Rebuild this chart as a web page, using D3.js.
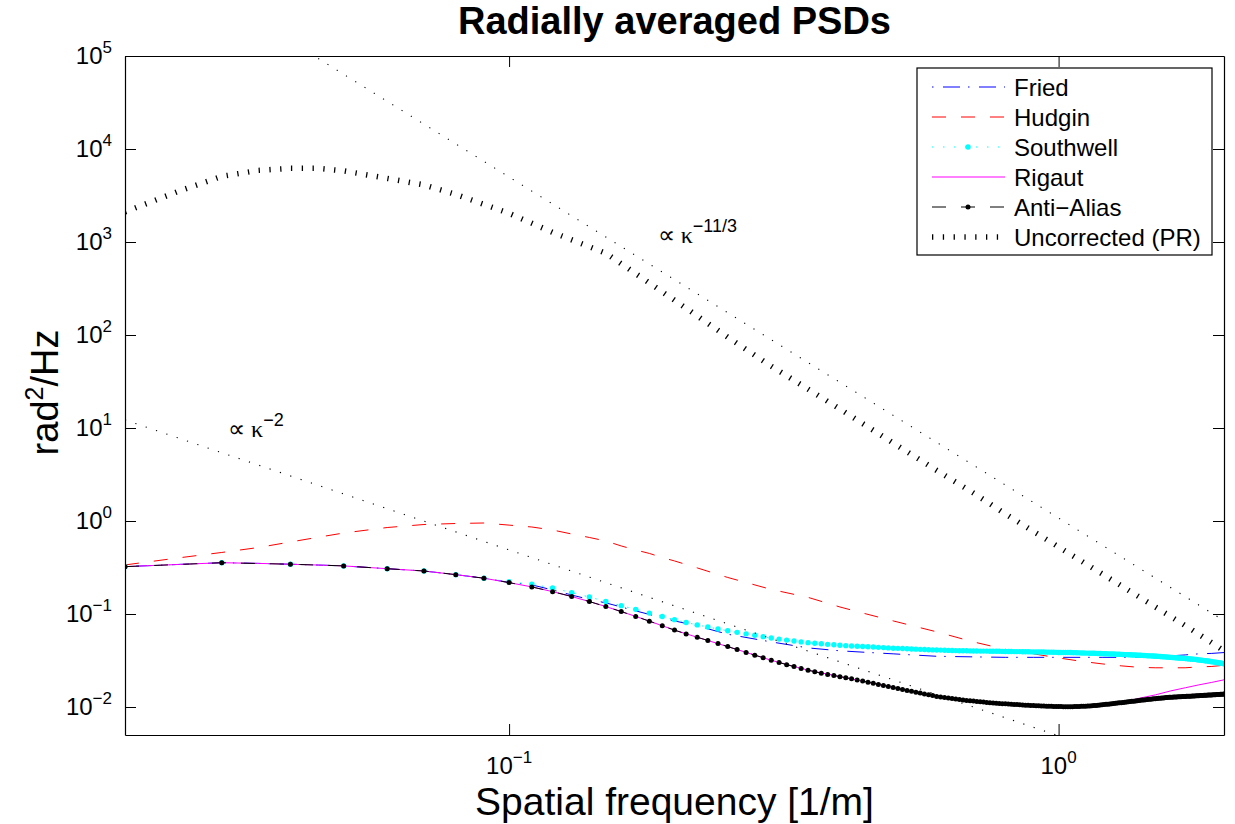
<!DOCTYPE html>
<html>
<head>
<meta charset="utf-8">
<script src="https://cdnjs.cloudflare.com/ajax/libs/d3/7.8.5/d3.min.js"></script>
<style>
  body { margin: 0; background: #fff; }
  svg { font-family: "Liberation Sans", Arial, sans-serif; }
</style>
</head>
<body>
<svg id="drawing_region"></svg>
<script>
// sampling grid of the marker series (0.02 ... 2.00 step 0.01)
const kappaFine = d3.range(2, 201).map(i => i / 100);

const antiAlias = [
  0.323, 0.356, 0.343, 0.329, 0.307, 0.290, 0.265, 0.2425, 0.2175,
  0.1955, 0.174, 0.1542, 0.1361, 0.1202, 0.1062, 0.0942, 0.0838, 0.0748, 0.0671,
  0.0611, 0.0562, 0.0520, 0.0481, 0.0446, 0.0415, 0.0386, 0.0361, 0.0339, 0.0318,
  0.0301, 0.0285, 0.0272, 0.0259, 0.0249, 0.0239, 0.0231, 0.0224, 0.0218, 0.0212,
  0.02065, 0.0201, 0.01954, 0.01901, 0.01849, 0.01799, 0.0175, 0.01706, 0.01663, 0.01622,
  0.01581, 0.01544, 0.01508, 0.01475, 0.01442, 0.01412, 0.01382, 0.01354, 0.01327, 0.0130,
  0.01282, 0.01264, 0.01248, 0.01232, 0.01217, 0.01203, 0.0119, 0.01178, 0.01167, 0.01157,
  0.01148, 0.01138, 0.01129, 0.01121, 0.01113, 0.01106, 0.01099, 0.01093, 0.01087, 0.01082,
  0.01076, 0.01072, 0.01067, 0.01062, 0.01057, 0.01052, 0.01047, 0.01043, 0.0104, 0.01036,
  0.01033, 0.0103, 0.01027, 0.01024, 0.01021, 0.01019, 0.01017, 0.01015, 0.01013, 0.01011,
  0.0101, 0.01009, 0.01008, 0.01008, 0.01008, 0.01009, 0.0101, 0.01012, 0.01013, 0.01016,
  0.01018, 0.01021, 0.01025, 0.01028, 0.01032, 0.01036, 0.01041, 0.01046, 0.01051, 0.01056,
  0.01062, 0.01068, 0.01073, 0.01079, 0.01085, 0.01091, 0.01096, 0.01102, 0.01108, 0.01114,
  0.0112, 0.01126, 0.01132, 0.01138, 0.01144, 0.0115, 0.01156, 0.01162, 0.01169, 0.01175,
  0.01181, 0.01187, 0.01192, 0.01198, 0.01204, 0.01209, 0.01214, 0.0122, 0.01225, 0.0123,
  0.01235, 0.0124, 0.01244, 0.01249, 0.01253, 0.01258, 0.01262, 0.01266, 0.0127, 0.01274,
  0.01277, 0.01279, 0.01282, 0.01284, 0.01287, 0.01289, 0.01292, 0.01294, 0.01297, 0.01299,
  0.01302, 0.01304, 0.01307, 0.01309, 0.01312, 0.01314, 0.01317, 0.01319, 0.01322, 0.01325,
  0.01327, 0.0133, 0.01332, 0.01335, 0.01337, 0.0134, 0.01342, 0.01345, 0.01348, 0.0135,
  0.01353, 0.01355, 0.01358, 0.01361, 0.01363, 0.01366, 0.01368, 0.01371, 0.01374, 0.01376
];

const southwell = [
  0.323, 0.356, 0.343, 0.329, 0.307, 0.290, 0.265, 0.2425, 0.222,
  0.2089, 0.1905, 0.1698, 0.1521, 0.1365, 0.123, 0.1122, 0.1023, 0.094, 0.0869,
  0.0811, 0.0764, 0.0724, 0.069, 0.0661, 0.0635, 0.0612, 0.0592, 0.0571, 0.0553,
  0.0537, 0.0524, 0.0512, 0.0501, 0.0492, 0.0485, 0.0479, 0.0472, 0.0467, 0.0461,
  0.0457, 0.0453, 0.045, 0.0447, 0.0444, 0.0441, 0.0438, 0.0435, 0.0432, 0.0429,
  0.0427, 0.0425, 0.0423, 0.0421, 0.0419, 0.0417, 0.0415, 0.0413, 0.0411, 0.041,
  0.0409, 0.0407, 0.0406, 0.0405, 0.0404, 0.0403, 0.0402, 0.0402, 0.0401, 0.04,
  0.04, 0.0399, 0.0399, 0.0399, 0.0398, 0.0398, 0.0397, 0.0397, 0.0396, 0.0395,
  0.0395, 0.0395, 0.0394, 0.0394, 0.0394, 0.0393, 0.0393, 0.0393, 0.0392, 0.0391,
  0.0391, 0.0391, 0.039, 0.039, 0.0389, 0.0389, 0.0389, 0.0388, 0.0387, 0.0386,
  0.0386, 0.0386, 0.0385, 0.0385, 0.0385, 0.0384, 0.0384, 0.0383, 0.0382, 0.0381,
  0.0381, 0.038, 0.038, 0.0379, 0.0378, 0.0378, 0.0377, 0.0376, 0.0376, 0.0375,
  0.0374, 0.0374, 0.0373, 0.0372, 0.0372, 0.0371, 0.037, 0.0369, 0.0369, 0.0368,
  0.0367, 0.0366, 0.0366, 0.0365, 0.0364, 0.0363, 0.0362, 0.0362, 0.0361, 0.0361,
  0.036, 0.0359, 0.0358, 0.0357, 0.0356, 0.0355, 0.0355, 0.0354, 0.0353, 0.0352,
  0.0351, 0.035, 0.0349, 0.0348, 0.0347, 0.0346, 0.0345, 0.0344, 0.0343, 0.0342,
  0.0341, 0.034, 0.0339, 0.0338, 0.0337, 0.0336, 0.0335, 0.0334, 0.0333, 0.0332,
  0.0331, 0.033, 0.0329, 0.0328, 0.0327, 0.0326, 0.0325, 0.0324, 0.0322, 0.0321,
  0.0319, 0.0318, 0.0317, 0.0315, 0.0314, 0.0313, 0.0312, 0.031, 0.0309, 0.0307,
  0.0306, 0.0304, 0.0303, 0.0301, 0.03, 0.0298, 0.0297, 0.0295, 0.0293, 0.0291
];

// line-only series
const kappa = [0.02, 0.025, 0.03, 0.035, 0.04, 0.045, 0.05, 0.06, 0.07, 0.08, 0.09, 0.1,
  0.11, 0.12, 0.13, 0.14, 0.15, 0.16, 0.17, 0.18, 0.19, 0.2, 0.22, 0.25, 0.3, 0.35, 0.4, 0.45,
  0.5, 0.6, 0.7, 0.8, 0.9, 1.0, 1.1, 1.2, 1.3, 1.4, 1.5, 1.6, 1.7, 1.8, 1.9, 2.0];

const fried = [0.323, 0.341, 0.356, 0.350, 0.343, 0.336, 0.329, 0.307, 0.290, 0.265, 0.2425, 0.219,
  0.2055, 0.1815, 0.160, 0.1435, 0.1316, 0.119, 0.108, 0.099, 0.0908, 0.0843, 0.0745, 0.0606, 0.0501, 0.0432, 0.0402, 0.0386,
  0.0373, 0.0351, 0.0346, 0.0342, 0.0342, 0.0342, 0.0342, 0.0342, 0.0342, 0.0343, 0.0346, 0.0355, 0.0363, 0.0373, 0.0377, 0.0385];

const hudgin = [0.337, 0.401, 0.459, 0.519, 0.595, 0.67, 0.743, 0.851, 0.917, 0.940, 0.952, 0.903,
  0.862, 0.80, 0.725, 0.665, 0.61, 0.539, 0.488, 0.448, 0.405, 0.372, 0.313, 0.247, 0.1837, 0.151, 0.119, 0.099,
  0.0843, 0.0643, 0.0501, 0.0417, 0.0373, 0.0337, 0.031, 0.0291, 0.0277, 0.0267, 0.0264, 0.0264, 0.0264, 0.027, 0.0273, 0.0281];

const rigaut = [0.323, 0.341, 0.356, 0.350, 0.343, 0.336, 0.329, 0.307, 0.290, 0.265, 0.2425, 0.2175,
  0.1955, 0.174, 0.1542, 0.1361, 0.1202, 0.1062, 0.0942, 0.0838, 0.0748, 0.0671, 0.0562, 0.0446, 0.0318, 0.0249, 0.0212, 0.01849,
  0.01622, 0.0130, 0.01157, 0.01082, 0.01036, 0.01011, 0.01016, 0.01056, 0.01114, 0.0124, 0.0135, 0.0149, 0.0161, 0.0173, 0.0184, 0.0196];

const prKappa = [0.02, 0.025, 0.03, 0.035, 0.04, 0.045, 0.05, 0.06, 0.07, 0.08, 0.1, 0.12, 0.15,
  0.2, 0.25, 0.3, 0.4, 0.5, 0.6, 0.7, 0.8, 1.0, 1.2, 1.5, 1.75, 2.0];
const uncorrected = [2110, 3505, 5080, 5890, 6190, 6190, 5820, 4830, 4110, 3250, 2035, 1270, 757,
  237, 94.7, 46.2, 16, 6.9, 3.5, 2.0, 1.19, 0.526, 0.27, 0.119, 0.0675, 0.0402];

// reference power laws (end points)
const slopeKolmoKappa = [0.04, 2.0];
const slopeKolmo = [1.44e5, 0.0847];
const slopeTwoKappa = [0.02, 1.0];
const slopeTwo = [12.2, 0.0049];

const yTicks = [1e-2, 1e-1, 1, 1e1, 1e2, 1e3, 1e4, 1e5];
const yTickExp = ["\u22122", "\u22121", "0", "1", "2", "3", "4", "5"];
const xTicks = [0.1, 1];
const xTickExp = ["\u22121", "0"];

const legendNames = ["Fried", "Hudgin", "Southwell", "Rigaut", "Anti\u2212Alias", "Uncorrected (PR)"];

var config = {
    parent: '#drawing_region',
    width: 1235,
    height: 824,
    margin: {top:56, right:11, bottom:89, left:125}
};

class PsdChart {

    constructor( config ) {
        this.config = config;
        this.init();
    }

    init() {
        let self = this;

        self.svg = d3.select( self.config.parent )
            .attr('width', self.config.width)
            .attr('height', self.config.height);

        self.chart = self.svg.append('g')
            .attr('transform', `translate(${self.config.margin.left}, ${self.config.margin.top})`);

        self.inner_width = self.config.width - self.config.margin.left - self.config.margin.right;
        self.inner_height = self.config.height - self.config.margin.top - self.config.margin.bottom;

        self.xscale = d3.scaleLog()
            .domain( [0.02, 2] )
            .range( [0, self.inner_width] );

        self.yscale = d3.scaleLog()
            .domain( [0.005, 1e5] )
            .range( [self.inner_height, 0] );

        self.svg.append('defs').append('clipPath')
            .attr('id', 'plot_clip')
            .append('rect')
            .attr('width', self.inner_width)
            .attr('height', self.inner_height);

        self.plot = self.chart.append('g')
            .attr('clip-path', 'url(#plot_clip)');

        self.line = d3.line()
            .x( d => self.xscale( d.k ) )
            .y( d => self.yscale( d.v ) );
    }

    render() {
        let self = this;
        const zip = (ks, vs) => ks.map( (k, i) => ({k: k, v: vs[i]}) );

        const series = [
            {data: zip(kappa, fried), color: '#0000ff', dash: '1.5,9.5,17,8', width: 1},
            {data: zip(kappa, hudgin), color: '#ff0000', dash: '14,15', width: 1},
            {data: zip(kappaFine, southwell), color: '#00ffff', dash: '1.5,9.5', width: 1, r: 2.7},
            {data: zip(kappa, rigaut), color: '#ff00ff', dash: null, width: 1},
            {data: zip(kappaFine, antiAlias), color: '#000000', dash: '14,15', width: 1, r: 2.5},
            {data: zip(prKappa, uncorrected), color: '#000000', dash: '1.3,9.5', width: 5.5},
            {data: zip(slopeKolmoKappa, slopeKolmo), color: '#000000', dash: '1.2,9.7', width: 1.1},
            {data: zip(slopeTwoKappa, slopeTwo), color: '#000000', dash: '1.2,9.7', width: 1.1}
        ];

        series.forEach( s => {
            self.plot.append('path')
                .attr('d', self.line(s.data))
                .attr('stroke', s.color)
                .attr('stroke-width', s.width)
                .attr('stroke-dasharray', s.dash)
                .attr('fill', 'none');

            if ( s.r ) {
                self.plot.append('g').selectAll('circle')
                    .data(s.data)
                    .enter()
                    .append('circle')
                    .attr('cx', d => self.xscale( d.k ))
                    .attr('cy', d => self.yscale( d.v ))
                    .attr('r', s.r)
                    .attr('fill', s.color);
            }
        });

        self.renderAxes();
        self.renderTexts();
        self.renderLegend( series );
    }

    renderAxes() {
        let self = this;
        const W = self.inner_width, H = self.inner_height;

        const xminor = self.xscale.ticks().filter( v => !xTicks.some( t => Math.abs(t - v) < 1e-9 ) );
        const yminor = self.yscale.ticks().filter( v => !yTicks.some( t => Math.abs(t / v - 1) < 1e-6 ) );

        const axes = [
            {gen: d3.axisBottom, pos: `translate(0, ${H})`, scale: self.xscale, major: xTicks, minor: xminor},
            {gen: d3.axisTop, pos: 'translate(0, 0)', scale: self.xscale, major: xTicks, minor: xminor},
            {gen: d3.axisLeft, pos: 'translate(0, 0)', scale: self.yscale, major: yTicks, minor: yminor},
            {gen: d3.axisRight, pos: `translate(${W}, 0)`, scale: self.yscale, major: yTicks, minor: yminor}
        ];

        axes.forEach( a => {
            const g = self.chart.append('g').attr('transform', a.pos);
            g.call( a.gen(a.scale).tickValues(a.minor).tickSize(-5.5).tickSizeOuter(0).tickFormat('') );
            g.call( a.gen(a.scale).tickValues(a.major).tickSize(-11).tickSizeOuter(0).tickFormat('') );
            g.selectAll('path.domain').attr('stroke-width', 1.2);
            g.selectAll('.tick line').attr('stroke-width', 1);
        });

        // major labels as 10 with superscript
        const ylab = self.chart.append('g')
            .selectAll('text')
            .data(yTicks)
            .enter()
            .append('text')
            .attr('x', -13)
            .attr('y', d => self.yscale(d) + 8)
            .attr('text-anchor', 'end')
            .attr('font-size', 24)
            .attr('fill', '#000');
        ylab.append('tspan').text('10');
        ylab.append('tspan').attr('dy', -11).attr('font-size', 17).text( (d, i) => yTickExp[i] );

        const xlab = self.chart.append('g')
            .selectAll('text')
            .data(xTicks)
            .enter()
            .append('text')
            .attr('x', d => self.xscale(d))
            .attr('y', H + 39)
            .attr('text-anchor', 'middle')
            .attr('font-size', 24)
            .attr('fill', '#000');
        xlab.append('tspan').text('10');
        xlab.append('tspan').attr('dy', -11).attr('font-size', 17).text( (d, i) => xTickExp[i] );
    }

    renderTexts() {
        let self = this;
        const W = self.inner_width, H = self.inner_height;

        self.chart.append('text')
            .attr('x', W / 2)
            .attr('y', -22)
            .attr('text-anchor', 'middle')
            .attr('font-size', 38)
            .attr('font-weight', 'bold')
            .text('Radially averaged PSDs');

        self.chart.append('text')
            .attr('x', W / 2)
            .attr('y', H + 80)
            .attr('text-anchor', 'middle')
            .attr('font-size', 39)
            .text('Spatial frequency [1/m]');

        const yl = self.chart.append('text')
            .attr('transform', `translate(${58 - self.config.margin.left}, ${H / 2 - 3}) rotate(-90)`)
            .attr('text-anchor', 'middle')
            .attr('font-size', 38);
        yl.append('tspan').text('rad');
        yl.append('tspan').attr('dy', -15).attr('font-size', 25).text('2');
        yl.append('tspan').attr('dy', 15).text('/Hz');

        // proportionality notes, anchored in data coordinates
        const notes = [
            {k: 0.1864, v: 968, exp: '\u221211/3'},
            {k: 0.0308, v: 7.98, exp: '\u22122'}
        ];
        notes.forEach( n => {
            const t = self.chart.append('text')
                .attr('x', self.xscale(n.k))
                .attr('y', self.yscale(n.v))
                .attr('font-size', 24);
            t.append('tspan').attr('font-family', '"Liberation Serif", serif').text('\u221D \u03BA');
            t.append('tspan').attr('dy', -11).attr('font-size', 18).text(n.exp);
        });
    }

    renderLegend( series ) {
        let self = this;
        const box = {x: 917, y: 68, w: 295, h: 187};
        const lg = self.svg.append('g');

        lg.append('rect')
            .attr('x', box.x).attr('y', box.y)
            .attr('width', box.w).attr('height', box.h)
            .attr('fill', '#fff')
            .attr('stroke', '#000')
            .attr('stroke-width', 1.2);

        legendNames.forEach( (name, i) => {
            const s = series[i];
            const cy = box.y + 19 + i * 30;
            lg.append('line')
                .attr('x1', box.x + 15).attr('x2', box.x + 88)
                .attr('y1', cy).attr('y2', cy)
                .attr('stroke', s.color)
                .attr('stroke-width', s.width)
                .attr('stroke-dasharray', s.dash);
            if ( s.r ) {
                lg.append('circle')
                    .attr('cx', box.x + 51).attr('cy', cy)
                    .attr('r', s.r)
                    .attr('fill', s.color);
            }
            lg.append('text')
                .attr('x', box.x + 97)
                .attr('y', cy + 8.5)
                .attr('font-size', 24)
                .text(name);
        });
    }
}

const psd_chart = new PsdChart( config );
psd_chart.render();
</script>
</body>
</html>
